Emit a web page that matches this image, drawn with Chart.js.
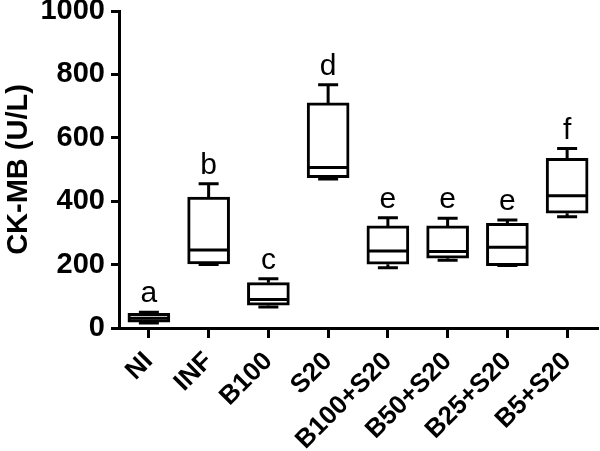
<!DOCTYPE html>
<html>
<head>
<meta charset="utf-8">
<script src="https://cdn.jsdelivr.net/npm/chart.js@4/dist/chart.umd.min.js"></script>
<style>
  body { margin: 0; background: #fff; }
  #wrap { width: 600px; height: 451px; }
</style>
</head>
<body>
<div id="wrap"><canvas id="chart" width="600" height="451"></canvas></div>
<script>
// Box plot values (U/L)
const categories = ['NI', 'INF', 'B100', 'S20', 'B100+S20', 'B50+S20', 'B25+S20', 'B5+S20'];
const minValues = [16, 200, 66, 470, 190, 214, 197, 351];
const q1Values = [18, 202, 72, 474, 201, 220, 197, 362];
const medianValues = [31, 246, 90, 506, 243, 241, 255, 417];
const q3Values = [46, 413, 143, 710, 322, 322, 330, 535];
const maxValues = [50, 455, 155, 767, 348, 346, 341, 566];
const letters = ['a', 'b', 'c', 'd', 'e', 'e', 'e', 'f'];
const yTicks = [0, 200, 400, 600, 800, 1000];

const FONT = "'Liberation Sans', Arial, sans-serif";

// whiskers, caps, medians and significance letters
const boxExtras = {
  id: 'boxExtras',
  afterDatasetsDraw(chart) {
    const ctx = chart.ctx;
    const x = chart.scales.x;
    const y = chart.scales.y;
    ctx.save();
    ctx.strokeStyle = '#000';
    ctx.lineWidth = 3;
    ctx.lineCap = 'butt';
    categories.forEach((c, i) => {
      const cx = x.getPixelForValue(i);
      const half = 19.5;
      const cap = 10;
      const yMin = y.getPixelForValue(minValues[i]);
      const yQ1 = y.getPixelForValue(q1Values[i]);
      const yMed = y.getPixelForValue(medianValues[i]);
      const yQ3 = y.getPixelForValue(q3Values[i]);
      const yMax = y.getPixelForValue(maxValues[i]);

      ctx.beginPath();
      // upper whisker
      ctx.moveTo(cx, yQ3);
      ctx.lineTo(cx, yMax);
      ctx.moveTo(cx - cap, yMax);
      ctx.lineTo(cx + cap, yMax);
      // lower whisker
      ctx.moveTo(cx, yQ1);
      ctx.lineTo(cx, yMin);
      ctx.moveTo(cx - cap, yMin);
      ctx.lineTo(cx + cap, yMin);
      // median
      ctx.moveTo(cx - half, yMed);
      ctx.lineTo(cx + half, yMed);
      ctx.stroke();

      ctx.fillStyle = '#000';
      ctx.font = '30px ' + FONT;
      ctx.textAlign = 'center';
      ctx.textBaseline = 'alphabetic';
      ctx.fillText(letters[i], cx, yMax - 10);
    });
    ctx.restore();
  }
};

const boxes = categories.map((c, i) => [q1Values[i], q3Values[i]]);

new Chart(document.getElementById('chart').getContext('2d'), {
  type: 'bar',
  data: {
    labels: categories,
    datasets: [{
      data: boxes,
      backgroundColor: '#fff',
      borderColor: '#000',
      borderWidth: 3,
      borderSkipped: false,
      barThickness: 42
    }]
  },
  options: {
    responsive: false,
    animation: false,
    layout: { padding: { top: 11, right: 3, bottom: 0, left: 0 } },
    plugins: {
      legend: { display: false },
      tooltip: { enabled: false }
    },
    scales: {
      x: {
        offset: true,
        afterFit(axis) {
          axis.height = 123;
          axis.paddingLeft = 0;
          axis.paddingRight = 0;
        },
        grid: {
          offset: false,
          drawOnChartArea: false,
          drawTicks: true,
          tickLength: 10,
          color: '#000',
          lineWidth: 3
        },
        border: { display: true, color: '#000', width: 3 },
        ticks: {
          autoSkip: false,
          minRotation: 45,
          maxRotation: 45,
          padding: 10,
          color: '#000',
          font: { size: 26, weight: 'bold', family: FONT, lineHeight: 1 }
        }
      },
      y: {
        min: 0,
        max: 1000,
        afterBuildTicks(axis) {
          axis.ticks = yTicks.map(v => ({ value: v }));
        },
        afterFit(axis) {
          axis.width = 119;
          axis.paddingTop = 0;
          axis.paddingBottom = 0;
        },
        grid: {
          drawOnChartArea: false,
          drawTicks: true,
          tickLength: 8,
          color: '#000',
          lineWidth: 3
        },
        border: { display: true, color: '#000', width: 3 },
        title: {
          display: true,
          text: 'CK-MB (U/L)',
          color: '#000',
          padding: { top: 2, bottom: 8 },
          font: { size: 29, weight: 'bold', family: FONT }
        },
        ticks: {
          padding: 6,
          color: '#000',
          callback: v => String(v),
          font: { size: 29, weight: 'bold', family: FONT, lineHeight: 1 }
        }
      }
    }
  },
  plugins: [boxExtras]
});
</script>
</body>
</html>
